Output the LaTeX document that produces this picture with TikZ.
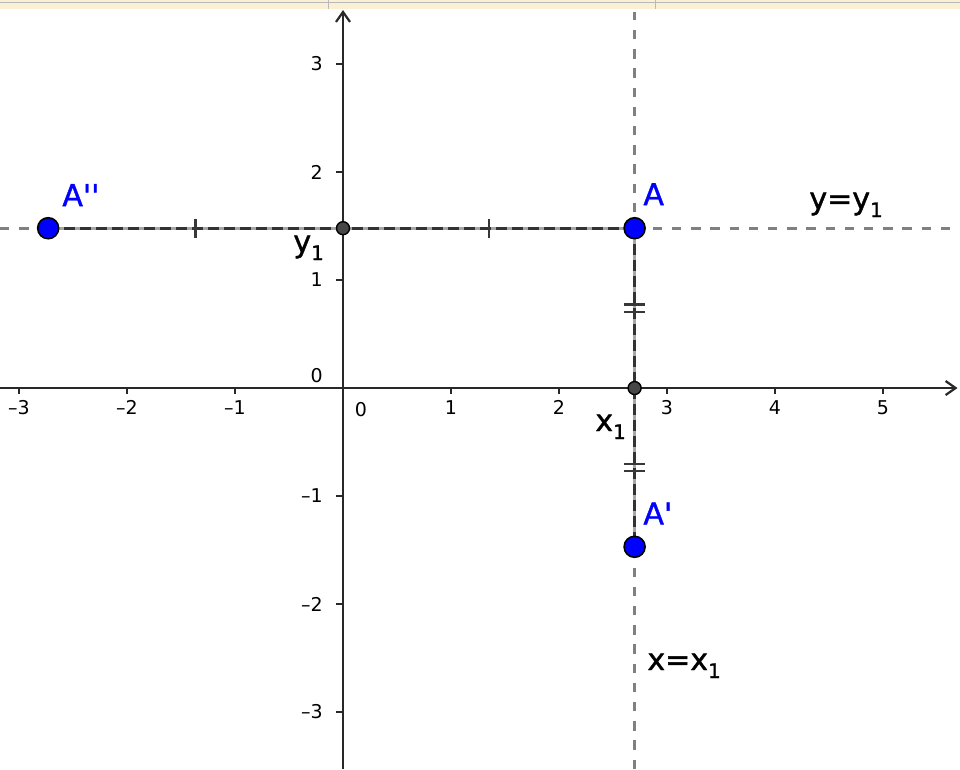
\documentclass[tikz,border=0pt]{standalone}
\usepackage{fontspec}
\setmainfont{DejaVu Sans}
\newfontfamily\rotfont{DejaVu Sans}[FakeBold=1.3]
\usepackage{xcolor}
\usepackage{tikz}
\usetikzlibrary{arrows.meta, calc}

\definecolor{ggblue}{RGB}{0,0,255}
\definecolor{guidegray}{RGB}{128,128,128}
\definecolor{axisdark}{RGB}{40,40,40}
\definecolor{barra}{RGB}{252,240,212}
\newcommand{\sub}[1]{\raisebox{-4pt}{\fontsize{10}{12}\selectfont #1}}

\tikzset{
  eixo/.style={axisdark, line width=1.1pt},
  guia/.style={guidegray, line width=1.3pt, dash pattern=on 4.7pt off 4.9pt},
  seg/.style={black!80, line width=1.4pt, dash pattern=on 5.5pt off 2.5pt,
    preaction={draw=gray!70, solid, line width=1.4pt}},
  marca/.style={black!78, line width=1.1pt},
  ponto/.style={circle, draw=black, fill=ggblue, line width=0.8pt, minimum size=10.5pt, inner sep=0pt},
  pontinho/.style={circle, draw=black, fill=black!72, line width=0.7pt, minimum size=6.5pt, inner sep=0pt},
  rotulo/.style={font=\rotfont\fontsize{15}{18}\selectfont, inner sep=0pt, anchor=base west},
  numx/.style={font=\fontsize{9.5}{11}\selectfont, inner sep=0pt, anchor=north},
  numy/.style={font=\fontsize{9.5}{11}\selectfont, inner sep=0pt, anchor=east},
}

\begin{document}
\begin{tikzpicture}[x=54pt, y=54pt]
        \useasboundingbox (-3.176,-3.528) rectangle (5.713,3.593);
        % Barra superior
        \fill[barra] (-3.176,3.514) rectangle (5.713,3.593);
        \draw[gray!55, line width=0.4pt] (-3.176,3.570) -- (5.713,3.570);
        \foreach \x in {-0.139,2.889}
          \draw[gray!55, line width=0.4pt] (\x,3.514) -- (\x,3.593);
        % Retas y=y1 e x=x1
        \draw[guia] (-3.176,1.48) -- (5.713,1.48);
        \draw[guia] (2.70,-3.528) -- (2.70,3.48);
        % Eixos
        \draw[eixo, -{Straight Barb[length=5pt, width=7pt]}] (-3.176,0) -- (5.69,0);
        \draw[eixo, -{Straight Barb[length=5pt, width=7pt]}] (0,-3.528) -- (0,3.50);
        \foreach \x/\t [count=\i] in {-3/\textendash3,-2/\textendash2,-1/\textendash1,1/1,2/2,3/3,4/4,5/5} {
          \draw[eixo] (\x,0) -- (\x,-0.055);
          \node[numx] (tx\i) at (\x,-0.115) {\t};
        }
        \foreach \y/\t [count=\i] in {-3/\textendash3,-2/\textendash2,-1/\textendash1,1/1,2/2,3/3} {
          \draw[eixo] (0,\y) -- (-0.065,\y);
          \node[numy] (ty\i) at (-0.185,\y) {\t};
        }
        \node[numy] (zy) at (-0.185,0.12) {0};
        \node[numx] (zx) at (0.167,-0.13) {0};
        % Pontos
        \coordinate (A) at (2.70,1.48);
        \coordinate (A1) at (2.70,-1.47);
        \coordinate (A2) at (-2.73,1.48);
        \coordinate (Y1) at (0,1.48);
        \coordinate (X1) at (2.70,0);
        % Segmentos
        \draw[seg] (A2) -- (Y1) -- (A);
        \draw[seg] (A) -- (X1) -- (A1);
        \foreach \p/\q in {A2/Y1, Y1/A}
          \draw[marca] ($(\p)!0.5!(\q)$) ++(0,-0.088) -- ++(0,0.176);
        \foreach \p/\q in {A/X1, X1/A1} {
          \draw[marca] ($(\p)!0.5!(\q)$) ++(-0.1,0.034) -- ++(0.2,0);
          \draw[marca] ($(\p)!0.5!(\q)$) ++(-0.1,-0.034) -- ++(0.2,0);
        }
        \node[pontinho] (pY1) at (Y1) {};
        \node[pontinho] (pX1) at (X1) {};
        \node[ponto] (pA) at (A) {};
        \node[ponto] (pA1) at (A1) {};
        \node[ponto] (pA2) at (A2) {};
        % Rotulos
        \node[rotulo, text=ggblue] (lA) at (2.778,1.694) {A};
        \node[rotulo, text=ggblue] (lA1) at (2.778,-1.262) {A\textquotesingle};
        \node[rotulo, text=ggblue] (lA2) at (-2.602,1.685) {A\textquotesingle\textquotesingle};
        \node[rotulo] (ly) at (4.315,1.657) {y=y\sub{1}};
        \node[rotulo] (lx) at (2.815,-2.611) {x=x\sub{1}};
        \node[rotulo] (y1) at (-0.463,1.259) {y\sub{1}};
        \node[rotulo] (x1) at (2.333,-0.398) {x\sub{1}};
      \end{tikzpicture}
\end{document}
